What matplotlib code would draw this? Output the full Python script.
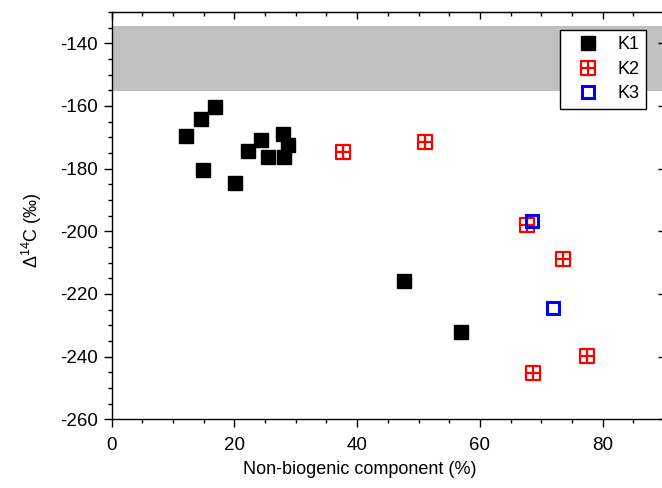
import matplotlib
matplotlib.use("Agg")
import matplotlib.pyplot as plt
import numpy as np
from matplotlib.path import Path
from matplotlib.ticker import MultipleLocator

plt.rcParams['font.family'] = ['Liberation Sans', 'DejaVu Sans']
plt.rcParams['mathtext.fontset'] = 'custom'
plt.rcParams['mathtext.rm'] = 'Liberation Sans'
plt.rcParams['mathtext.it'] = 'Liberation Sans:italic'
plt.rcParams['axes.unicode_minus'] = False

# data
k1_x = [16.9, 14.5, 12.1, 24.4, 27.9, 28.8, 22.2, 25.4, 28.1, 14.8, 20.1, 47.6, 56.9]
k1_y = [-160.4, -164.1, -169.7, -170.7, -168.9, -172.6, -174.5, -176.4, -176.4,
        -180.4, -184.6, -215.7, -232.0]
k2_x = [37.7, 51.0, 67.6, 73.6, 77.5, 68.6]
k2_y = [-174.8, -171.6, -198.1, -208.9, -239.9, -245.1]
k3_x = [68.5, 71.9]
k3_y = [-196.8, -224.6]
band = (-155.3, -134.6)

# square with a cross inside
verts = [(-1, -1), (1, -1), (1, 1), (-1, 1), (-1, -1),
         (0, -1), (0, 1), (-1, 0), (1, 0)]
codes = [Path.MOVETO, Path.LINETO, Path.LINETO, Path.LINETO, Path.CLOSEPOLY,
         Path.MOVETO, Path.LINETO, Path.MOVETO, Path.LINETO]
cross_sq = Path(verts, codes)

L, R, T, B = 111.7, 664.0, 12.0, 419.3
fig = plt.figure(figsize=(6.62, 4.88), dpi=100)
ax = fig.add_axes([L / 662, (488 - B) / 488, (R - L) / 662, (B - T) / 488])

ax.axhspan(band[0], band[1], color='#c0c0c0', lw=0, zorder=0)

ax.plot(k1_x, k1_y, ls='none', marker='s', ms=9.6, mfc='black', mec='black',
        mew=1, label='K1', zorder=3)
ax.plot(k2_x, k2_y, ls='none', marker=cross_sq, ms=9.4, mfc='none', mec='red',
        mew=1.6, label='K2', zorder=3)
ax.plot(k3_x, k3_y, ls='none', marker='s', ms=8.3, mfc='none', mec='blue',
        mew=2.2, label='K3', zorder=4)

ax.set_xlim(0, 90)
ax.set_ylim(-260, -130)
ax.xaxis.set_major_locator(MultipleLocator(20))
ax.xaxis.set_minor_locator(MultipleLocator(5))
ax.yaxis.set_major_locator(MultipleLocator(20))
ax.yaxis.set_minor_locator(MultipleLocator(5))
ax.tick_params(which='major', direction='out', length=5.5, width=1, labelsize=13.5, pad=4.5)
ax.tick_params(axis='x', which='major', pad=7)
ax.tick_params(which='minor', direction='out', length=3, width=1)

top = ax.secondary_xaxis('top')
top.xaxis.set_major_locator(MultipleLocator(20))
top.xaxis.set_minor_locator(MultipleLocator(5))
top.tick_params(which='major', direction='in', length=5, width=1, labeltop=False)
top.tick_params(which='minor', direction='in', length=3, width=1)

right = ax.secondary_yaxis('right')
right.yaxis.set_major_locator(MultipleLocator(20))
right.tick_params(which='major', direction='in', length=4, width=1, labelright=False)
right.tick_params(which='minor', length=0)

for s in ax.spines.values():
    s.set_linewidth(1)

ax.set_xlabel('Non-biogenic component (%)', fontsize=13)
ax.set_ylabel('\u0394$^{14}$C (\u2030)', fontsize=13)
ax.xaxis.set_label_coords((360 - L) / (R - L), (B - 461) / (B - T))
ax.yaxis.set_label_coords((44 - L) / (R - L), (B - 230) / (B - T))

leg = ax.legend(loc='upper right',
                bbox_to_anchor=((646 - L) / (R - L), (B - 30) / (B - T)),
                borderaxespad=0, fontsize=13, frameon=True, fancybox=False,
                edgecolor='black', framealpha=1, handlelength=2.4,
                handletextpad=0.47, borderpad=0.35, labelspacing=0.42)
leg.get_frame().set_linewidth(1)

fig.savefig('out.png', dpi=100)
